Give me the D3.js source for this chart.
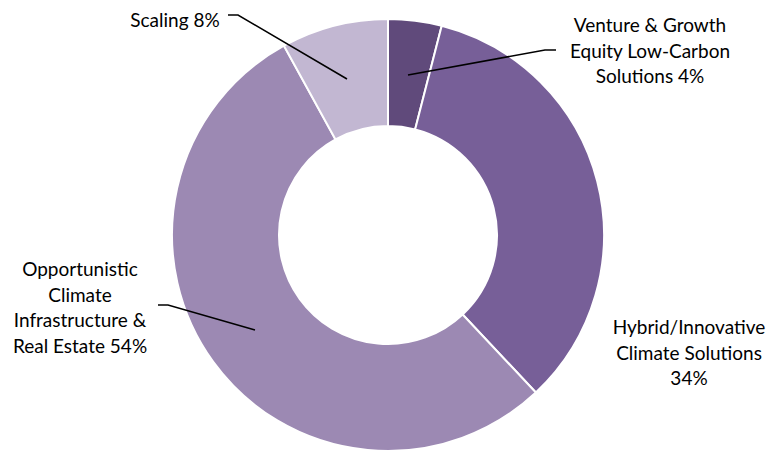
<!DOCTYPE html>
<html><head><meta charset="utf-8">
<script src="https://cdn.jsdelivr.net/npm/d3@7"></script>
<style>body{margin:0;background:#fff}svg{display:block}</style>
</head><body>
<svg id="c" width="768" height="451"></svg>
<script>
const categories = ["Venture & Growth Equity Low-Carbon Solutions", "Hybrid/Innovative Climate Solutions", "Opportunistic Climate Infrastructure & Real Estate", "Scaling"];
const values = [4, 34, 54, 8];
const colors = ["#604a7b", "#775f98", "#9c89b3", "#c2b7d2"];
const labelLines = [
  ["Venture & Growth", "Equity Low-Carbon", "Solutions 4%"],
  ["Hybrid/Innovative", "Climate Solutions", "34%"],
  ["Opportunistic", "Climate", "Infrastructure &", "Real Estate 54%"],
  ["Scaling 8%"]
];

const svg = d3.select("#c");
const cx = 388, cy = 235, R = 216, r = 109;
const g = svg.append("g").attr("transform", `translate(${cx},${cy})`);
const pie = d3.pie().sort(null).value(d => d);
const arcs = pie(values);
const arc = d3.arc().innerRadius(r).outerRadius(R);
g.selectAll("path.s").data(arcs).enter().append("path")
  .attr("d", arc).attr("fill", (d, i) => colors[i])
  .attr("stroke", "#fff").attr("stroke-width", 2);

const labelPos = [
  {x: 650, y: 32, anchor: "middle", line: [[408,75],[545,50],[556,50]]},
  {x: 689, y: 334, anchor: "middle", line: null},
  {x: 80, y: 276, anchor: "middle", line: [[158,305],[168,305],[255,330]]},
  {x: 175, y: 27, anchor: "middle", line: [[228,15],[238,15],[347,79]]}
];
const lh = 25.5;
labelPos.forEach((p, i) => {
  if (p.line) {
    svg.append("path").attr("d", d3.line()(p.line))
      .attr("fill", "none").attr("stroke", "#000").attr("stroke-width", 1.5);
  }
  const t = svg.append("text").attr("text-anchor", p.anchor)
    .attr("font-family", "Lato, 'Open Sans', sans-serif").attr("font-size", 19).attr("fill", "#000");
  labelLines[i].forEach((s, j) => {
    t.append("tspan").attr("x", p.x).attr("y", p.y + j * lh).text(s);
  });
});
</script>
</body></html>
